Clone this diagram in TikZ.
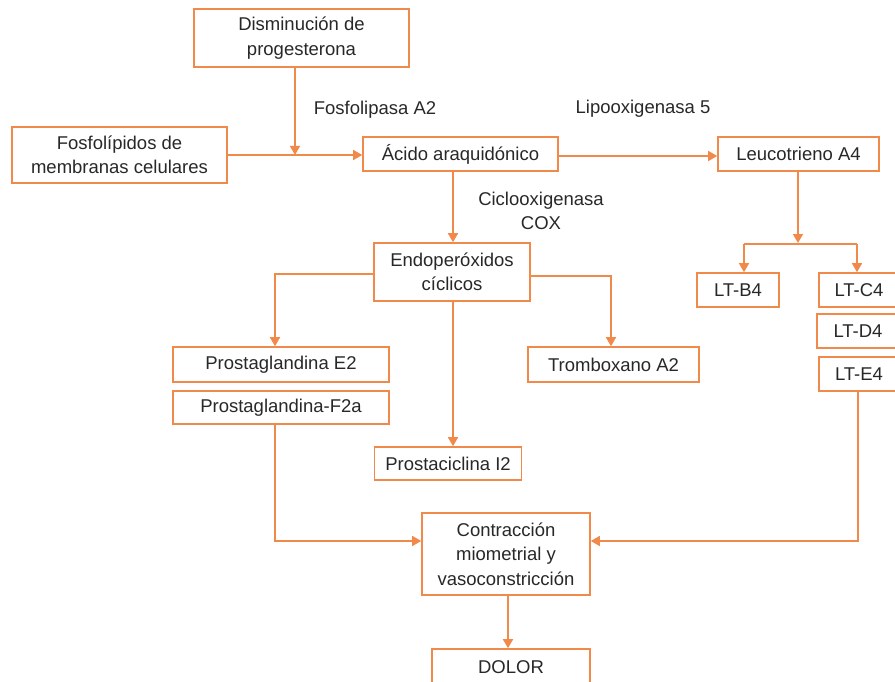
\documentclass[tikz,border=0pt]{standalone}
\usepackage{fontspec}
\setmainfont{Liberation Sans}
\usetikzlibrary{arrows.meta}
\definecolor{org}{RGB}{241,137,74}
\definecolor{txt}{RGB}{40,40,40}
\begin{document}
\begin{tikzpicture}[x=1pt,y=-1pt,
  box/.style={draw=org,line width=1.6pt,fill=white,inner sep=0pt,align=center,
    text=txt,font=\fontsize{18.5}{24.5}\selectfont},
  lbl/.style={inner sep=0pt,align=center,text=txt,font=\fontsize{18.5}{24.5}\selectfont},
  conn/.style={draw=org,line width=1.6pt},
  arr/.style={conn,-{Triangle[length=9pt,width=10pt]}}]
\useasboundingbox (0,0) rectangle (895,682);
% boxes
\node[box,minimum width=215pt,minimum height=58pt] (dis) at (301.5,38) {Disminución de\\progesterona};
\node[box,minimum width=215pt,minimum height=56pt] (fos) at (119.5,155) {Fosfolípidos de\\membranas celulares};
\node[box,minimum width=195pt,minimum height=34pt] (aci) at (460.5,154) {Ácido araquidónico};
\node[box,minimum width=161pt,minimum height=34pt] (leu) at (798.5,154) {Leucotrieno A4};
\node[box,minimum width=156pt,minimum height=58pt] (endo) at (452,272) {Endoperóxidos\\cíclicos};
\node[box,minimum width=82pt,minimum height=34pt] (ltb) at (738,290) {LT-B4};
\node[box,minimum width=80pt,minimum height=34pt] (ltc) at (859,290) {LT-C4};
\node[box,minimum width=82pt,minimum height=34pt] (ltd) at (858,331) {LT-D4};
\node[box,minimum width=80pt,minimum height=34pt] (lte) at (859,374) {LT-E4};
\node[box,minimum width=216pt,minimum height=35pt] (pge) at (281,364.5) {Prostaglandina E2};
\node[box,minimum width=216pt,minimum height=33pt] (pgf) at (281,407.5) {Prostaglandina-F2a};
\node[box,minimum width=171pt,minimum height=35pt] (tro) at (613.5,364.5) {Tromboxano A2};
\node[box,minimum width=147pt,minimum height=33pt] (pci) at (448,463.5) {Prostaciclina I2};
\node[box,minimum width=168pt,minimum height=82pt] (con) at (506,554) {Contracción\\miometrial y\\vasoconstricción};
\node[box,minimum width=158pt,minimum height=36pt] (dol) at (511,667) {DOLOR};
% labels
\node[lbl] (lfos) at (375,110) {Fosfolipasa A2};
\node[lbl] (llip) at (643,109) {Lipooxigenasa 5};
\node[lbl] (lcox) at (541,211) {Ciclooxigenasa\\COX};
% junction coordinates
\coordinate (j1) at (295,155);
\coordinate (j2) at (798,243);
\coordinate (j2l) at (744,244);
\coordinate (j2r) at (857,244);
\coordinate (j3l) at (275,274);
\coordinate (j3r) at (611,276);
\coordinate (j4l) at (275,541);
\coordinate (j4r) at (858,541);
% connectors
\draw[arr] (dis.south -| j1) -- (j1);
\draw[arr] (fos.east |- j1) -- (aci.west |- j1);
\draw[arr] (aci.east |- 0,156) -- (leu.west |- 0,156);
\draw[arr] (leu.south -| j2) -- (j2);
\draw[conn] (j2l) -- (j2r);
\draw[arr] (j2l) -- (ltb.north -| j2l);
\draw[arr] (j2r) -- (ltc.north -| j2r);
\draw[arr] (aci.south -| 453,0) -- (endo.north -| 453,0);
\draw[arr] (endo.west |- j3l) -- (j3l) -- (pge.north -| j3l);
\draw[arr] (endo.east |- j3r) -- (j3r) -- (tro.north -| j3r);
\draw[arr] (endo.south -| 453,0) -- (pci.north -| 453,0);
\draw[arr] (pgf.south -| j4l) -- (j4l) -- (con.west |- j4l);
\draw[arr] (lte.south -| j4r) -- (j4r) -- (con.east |- j4r);
\draw[arr] (con.south -| 508,0) -- (dol.north -| 508,0);
\end{tikzpicture}
\end{document}
